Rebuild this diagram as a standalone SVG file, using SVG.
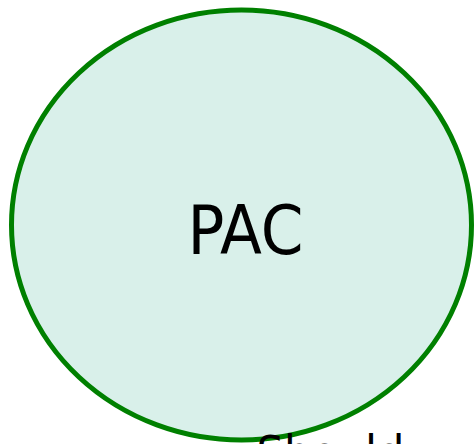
<svg xmlns="http://www.w3.org/2000/svg" width="475" height="444" viewBox="0 0 475 444">
  <style>
    .node { fill: #d9f0ea; stroke: #008000; stroke-width: 5; }
    .label { font-family: "DejaVu Sans Condensed", "DejaVu Sans", sans-serif; font-stretch: condensed; fill: #000000; }
  </style>
  <rect width="475" height="444" fill="#ffffff"/>
  <g id="connectors"></g>
  <g id="node-pac">
    <ellipse class="node" cx="241.5" cy="225" rx="230" ry="215"/>
    <text class="label" x="245.5" y="254.3" font-size="68" text-anchor="middle">PAC</text>
  </g>
  <g id="node-should">
    <text class="label" x="256.5" y="470" font-size="48">Should</text>
  </g>
</svg>
